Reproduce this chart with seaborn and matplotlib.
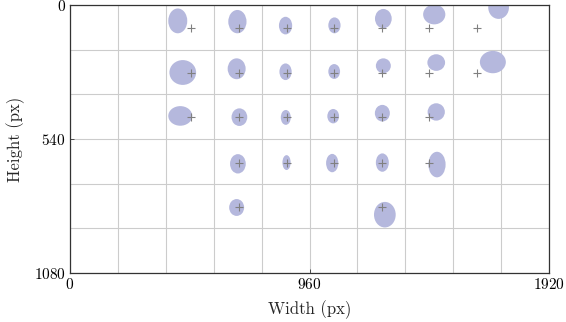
import matplotlib
matplotlib.use("Agg")
import matplotlib.pyplot as plt
from matplotlib.patches import Ellipse
from matplotlib.ticker import MultipleLocator, FixedLocator
import seaborn as sns
import pandas as pd

# Target (cross) positions
target_x = [485, 677, 868, 1059, 1250, 1440, 1631,
            485, 677, 868, 1059, 1250, 1440, 1631,
            485, 677, 868, 1059, 1250, 1440,
            677, 868, 1059, 1250, 1440,
            677, 1250]
target_y = [92, 92, 92, 92, 92, 92, 92,
            273, 273, 273, 273, 273, 273, 273,
            453, 453, 453, 453, 453, 453,
            635, 635, 635, 635, 635,
            815, 815]

# Gaze ellipses (center, width, height)
ell_cx = [432, 671, 864, 1060, 1256, 1460, 1718,
          452, 668, 864, 1059, 1256, 1468, 1695,
          442, 679, 865, 1055, 1252, 1468,
          673, 868, 1051, 1252, 1471,
          668, 1262]
ell_cy = [64, 67, 83, 82, 55, 38, 10,
          272, 257, 269, 268, 245, 232, 230,
          447, 452, 453, 448, 436, 431,
          640, 635, 637, 635, 643,
          816, 845]
ell_w = [76, 73, 53, 49, 67, 89, 83,
         107, 72, 49, 47, 60, 71, 104,
         96, 63, 40, 47, 60, 69,
         63, 33, 49, 52, 69,
         60, 87]
ell_h = [100, 94, 71, 64, 78, 80, 92,
         100, 84, 67, 60, 60, 67, 90,
         79, 71, 60, 58, 67, 70,
         78, 60, 74, 74, 103,
         68, 103]

x_ticks = [0, 960, 1920]
y_ticks = [0, 540, 1080]

sns.set_theme(style="white")
plt.rcParams['font.family'] = ['cmr10', 'DejaVu Serif']
plt.rcParams['axes.formatter.use_mathtext'] = True

fig = plt.figure(figsize=(5.66, 3.22), dpi=100)
ax = fig.add_axes([70 / 566, 1 - 273 / 322, 479 / 566, 268 / 322])

ax.set_xlim(0, 1920)
ax.set_ylim(1080, 0)

ax.xaxis.set_major_locator(FixedLocator(x_ticks))
ax.yaxis.set_major_locator(FixedLocator(y_ticks))
ax.xaxis.set_minor_locator(MultipleLocator(192))
ax.yaxis.set_minor_locator(MultipleLocator(180))
ax.grid(True, which='both', color='#cccccc', linewidth=0.8)
ax.set_axisbelow(True)

for cx, cy, w, h in zip(ell_cx, ell_cy, ell_w, ell_h):
    ax.add_patch(Ellipse((cx, cy), w, h, facecolor='#b5b8dd', edgecolor='none', zorder=2))

df = pd.DataFrame({'x': target_x, 'y': target_y})
sns.scatterplot(data=df, x='x', y='y', marker='+', s=40, color='#808080',
                linewidth=0.8, ax=ax, zorder=3)

ax.tick_params(axis='both', which='both', direction='in', length=3, width=0.6,
               colors='#333333', labelcolor='black', labelsize=11, pad=3,
               bottom=True, left=True)
ax.tick_params(axis='both', which='minor', length=0)
for s in ax.spines.values():
    s.set_color('#333333')
    s.set_linewidth(0.9)

ax.set_xlabel('Width (px)', fontsize=12, labelpad=6)
ax.set_ylabel('Height (px)', fontsize=12, labelpad=6)

fig.savefig('out.png', dpi=100)
